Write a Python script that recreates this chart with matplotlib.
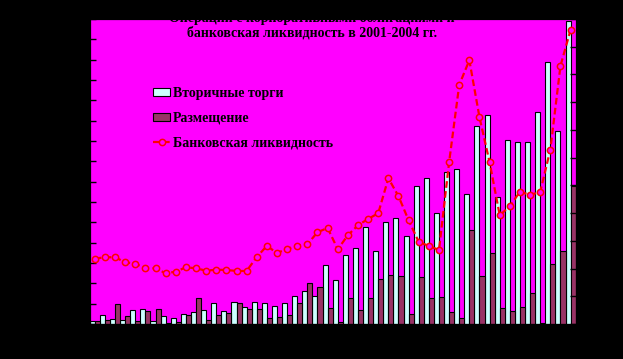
import numpy as np
import matplotlib
matplotlib.use("Agg")
import matplotlib.pyplot as plt

plt.rcParams['font.family'] = ['Liberation Serif', 'DejaVu Serif']

# 48 months, Jan 2001 - Dec 2004
months = np.arange(48)

# Вторичные торги (left axis)
secondary = [0.27, 0.86, 0.46, 0.36, 1.35, 1.45, 0.27, 0.76, 0.56, 0.95,
             1.15, 1.35, 2.04, 1.25, 2.13, 1.64, 2.13, 2.04, 1.74, 2.04,
             2.75, 3.22, 2.75, 5.77, 4.30, 6.76, 7.45, 9.51, 7.15, 10.0,
             10.4, 8.63, 13.54, 14.33, 10.89, 14.92, 15.22, 12.76, 19.45, 20.53,
             12.46, 18.07, 17.87, 17.87, 20.82, 25.74, 18.95, 29.77]

# Размещение (left axis)
placement = [0.27, 0.36, 1.94, 0.76, 0.27, 1.25, 1.45, 0.07, 0.17, 0.86,
             2.53, 0.36, 0.86, 1.05, 2.04, 1.45, 1.45, 0.56, 0.66, 0.89,
             2.04, 4.0, 3.61, 1.54, 0.17, 2.53, 1.35, 2.53, 4.40, 4.79,
             4.69, 0.95, 4.59, 2.53, 2.63, 1.15, 0.56, 9.22, 4.69, 6.95,
             1.54, 1.25, 1.64, 3.02, 0.05, 5.87, 7.15, 13.6]

# Банковская ликвидность (right axis)
liquidity = [117.8, 120.3, 120.3, 111.3, 108.7, 100.4, 100.4, 91.4, 94.3, 102.2,
             100.4, 96.1, 97.9, 97.4, 95.6, 95.6, 120.8, 140.7, 128.0, 135.2,
             141.2, 143.7, 165.4, 173.1, 134.7, 160.0, 178.0, 189.3, 199.6, 262.7,
             230.3, 187.0, 147.9, 140.7, 133.4, 291.6, 431.0, 475.5, 372.7, 291.6,
             196.0, 212.2, 238.6, 232.6, 238.0, 314.3, 465.2, 530.2]

title = "Операции с корпоративными облигациями и\nбанковская ликвидность в 2001-2004 гг."

fig = plt.figure(figsize=(6.23, 3.59), dpi=100, facecolor='black')
ax = fig.add_axes([0.144, 0.0975, 0.78, 0.85])
ax.set_facecolor('#FF00FF')

ax.bar(months - 0.25, secondary, width=0.5, color='#CCFFFF', edgecolor='black',
       linewidth=0.8, label='Вторичные торги')
ax.bar(months + 0.25, placement, width=0.5, color='#993366', edgecolor='black',
       linewidth=0.8, label='Размещение')
ax.set_xlim(-0.5, 47.5)
ax.set_ylim(0, 30)
ax.set_yticks(np.arange(0, 31, 2))
ax.tick_params(axis='y', direction='in', length=4, width=1, labelleft=False)
ax.tick_params(axis='x', length=0, labelbottom=False)

ax2 = ax.twinx()
ax2.plot(months, liquidity, color='red', lw=1.6, linestyle=(0, (3, 1.5)),
         marker='o', ms=4.5, mfc='#FF00FF', mec='red', mew=1.1,
         label='Банковская ликвидность')
ax2.set_ylim(0, 550)
ax2.set_yticks(np.arange(0, 551, 50))
ax2.tick_params(axis='y', direction='in', length=4, width=1, labelright=False)

for a in (ax, ax2):
    for s in a.spines.values():
        s.set_color('black')

h1, l1 = ax.get_legend_handles_labels()
h2, l2 = ax2.get_legend_handles_labels()
fig.legend(h1 + h2, l1 + l2, loc='upper left', bbox_to_anchor=(0.2345, 0.777),
           frameon=False, borderpad=0, handlelength=1.25, handleheight=0.55,
           handletextpad=0.2, labelspacing=0.85,
           prop={'family': 'Liberation Serif', 'weight': 'bold', 'size': 10})

fig.text(0.501, 0.93, title, ha='center', va='center', fontsize=10,
         fontweight='bold', color='black', linespacing=1.15)

fig.savefig('out.png', dpi=100, facecolor='black')
